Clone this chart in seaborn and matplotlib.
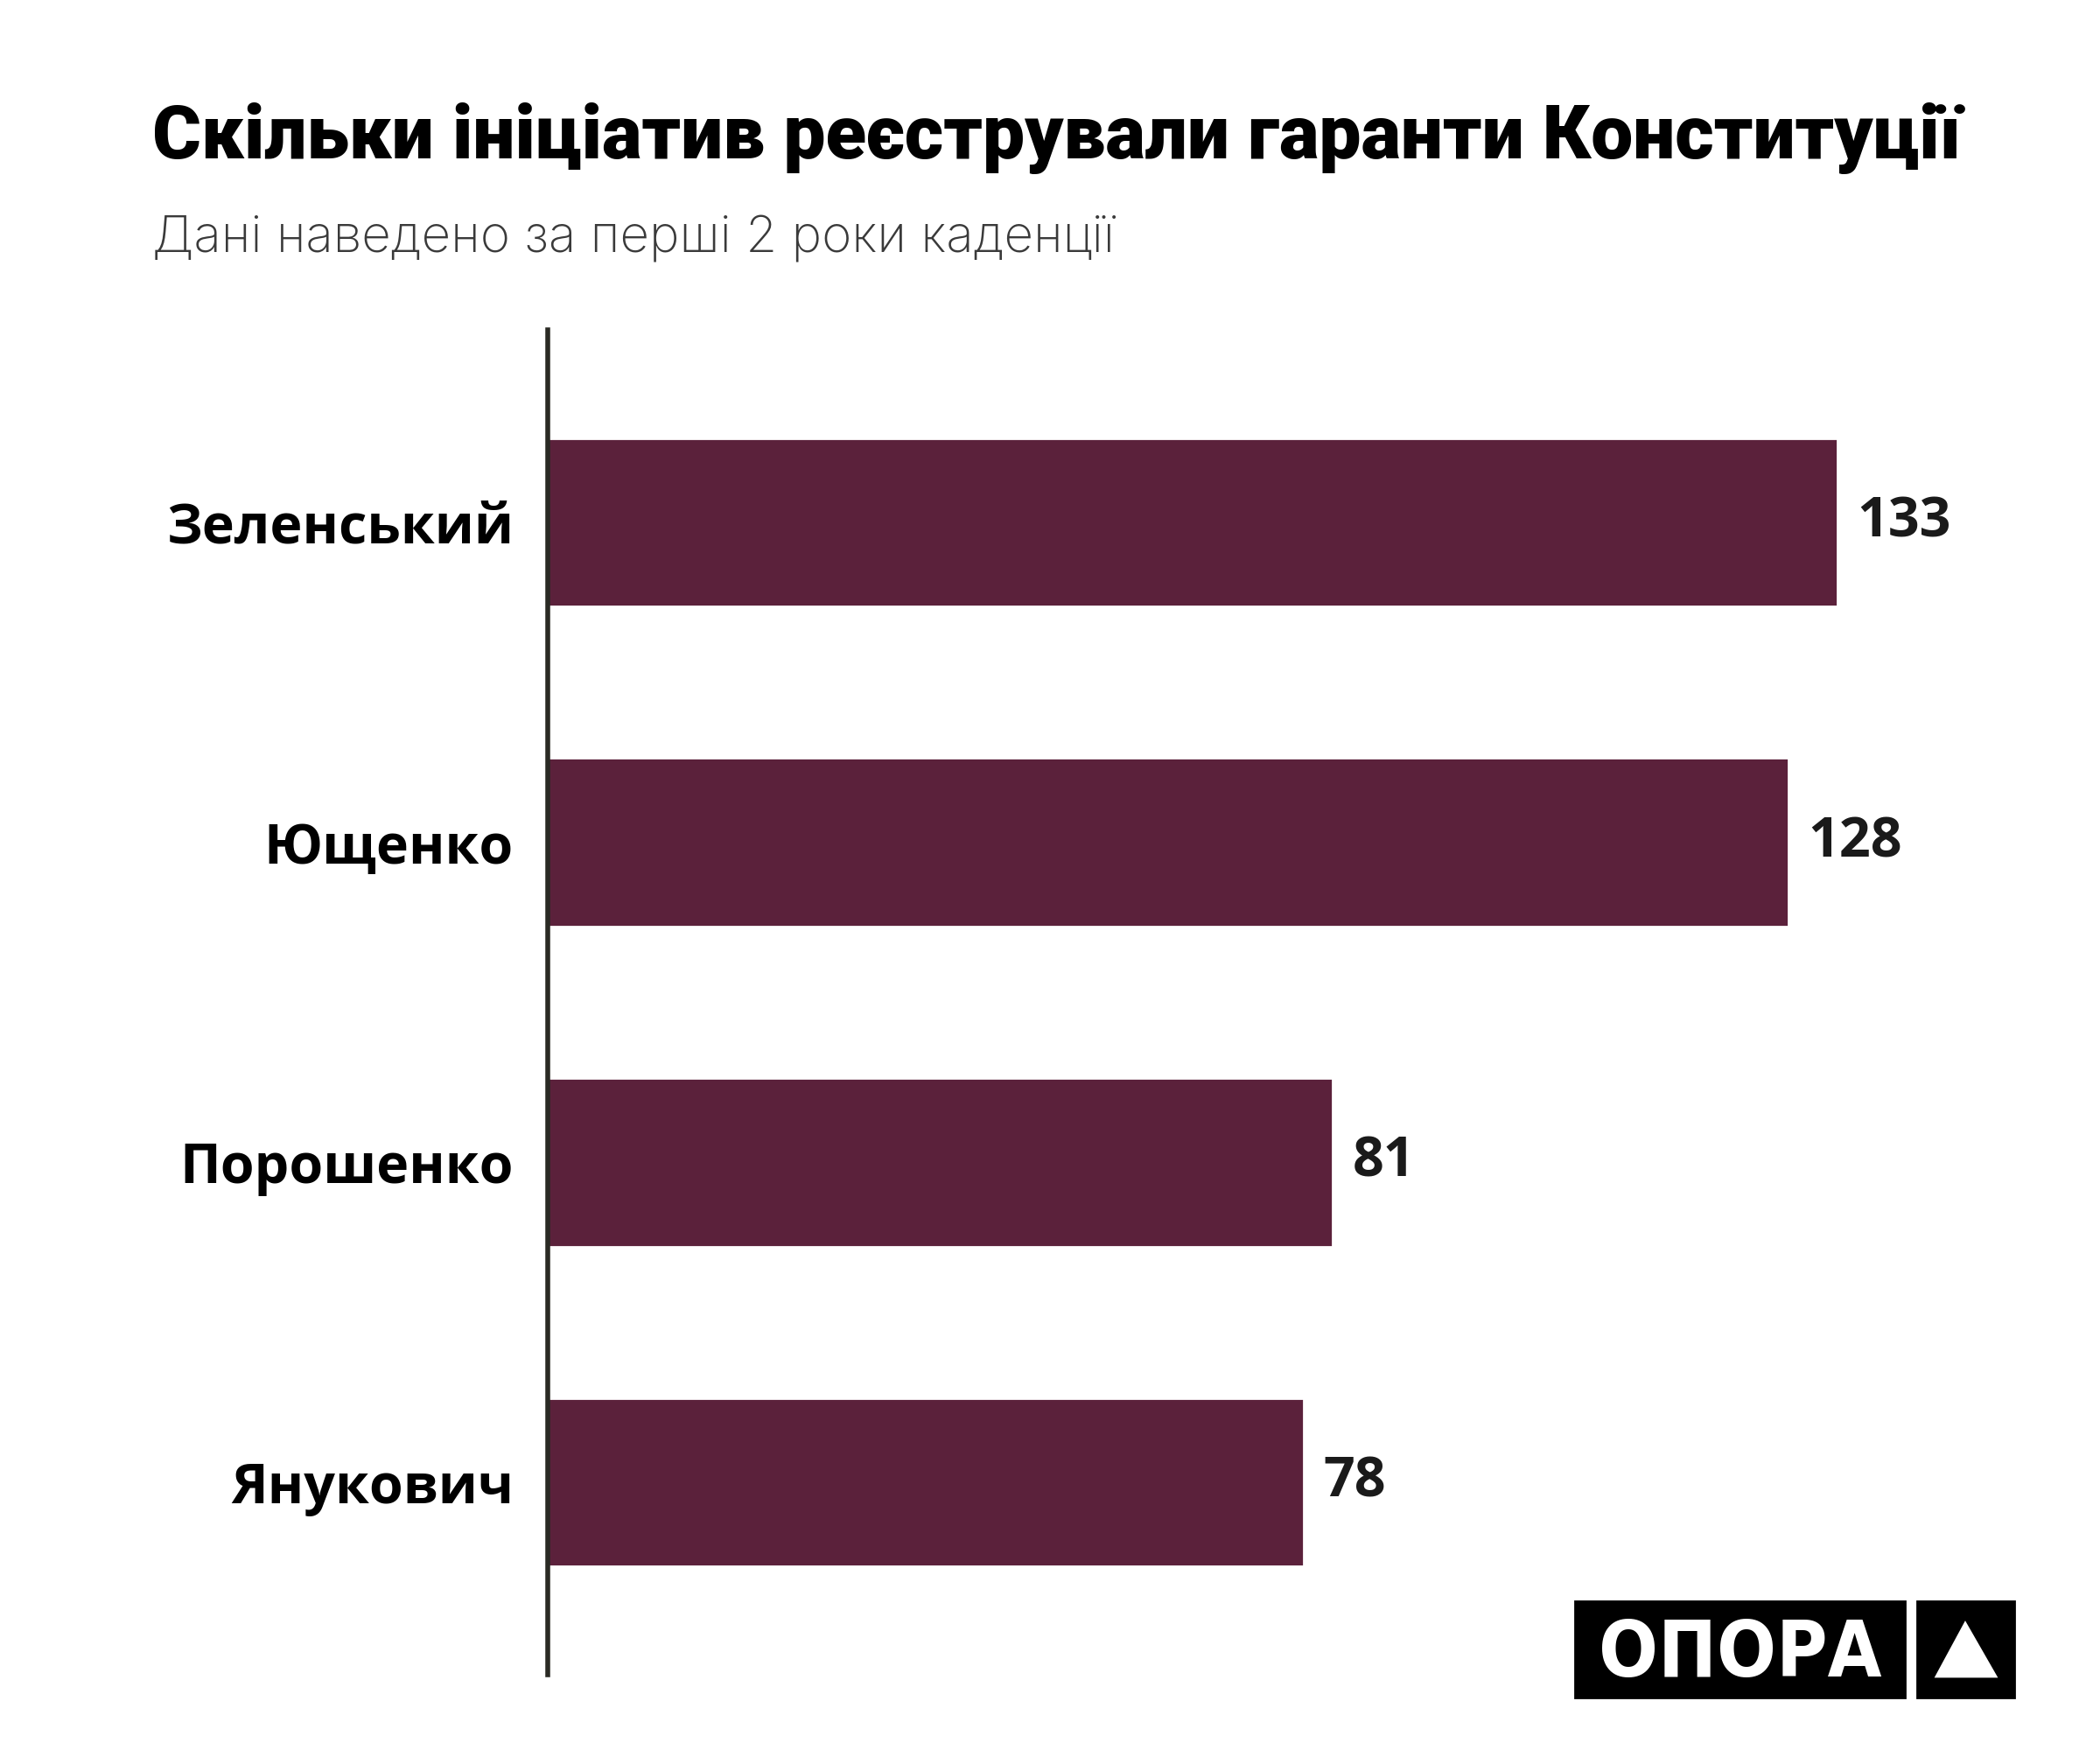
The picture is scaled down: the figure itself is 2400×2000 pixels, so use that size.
import pandas as pd
import seaborn as sns
import matplotlib.pyplot as plt
from matplotlib.patches import Rectangle, Polygon

# Дані
presidents = ["Зеленський", "Ющенко", "Порошенко", "Янукович"]
initiatives = [133, 128, 81, 78]

title = "Скільки ініціатив реєстрували гаранти Конституції"
subtitle = "Дані наведено за перші 2 роки каденції"

bar_color = "#5b213b"

df = pd.DataFrame({"president": presidents, "initiatives": initiatives})

sns.set_theme(style="white")
plt.rcParams['font.family'] = ['Open Sans', 'DejaVu Sans']

W, H = 2400, 2000
fig = plt.figure(figsize=(12, 10), dpi=200)
ax = fig.add_axes([626 / W, 1 - 1914 / H, 1672 / W, (1914 - 377) / H])

sns.barplot(data=df, x="initiatives", y="president", orient="h",
            color=bar_color, width=0.525, saturation=1, ax=ax)

ax.set_xlim(0, 1672 / 11.08)
ax.set_ylim(3.6, -0.6)
ax.set_xlabel("")
ax.set_ylabel("")
ax.set_xticks([])

for s in ["top", "right", "bottom"]:
    ax.spines[s].set_visible(False)
ax.spines["left"].set_color("#2a2a24")
ax.spines["left"].set_linewidth(2.0)

ax.tick_params(axis="y", length=0, pad=14)
for lbl in ax.get_yticklabels():
    lbl.set_fontsize(22.6)
    lbl.set_fontweight("bold")
    lbl.set_color("black")

for i, v in enumerate(initiatives):
    ax.annotate(str(v), xy=(v, i), xytext=(8, 0), textcoords="offset points",
                va="center", ha="left", fontsize=22.6, fontweight="bold",
                color="#1a1a1a")

# Заголовок
fig.text(174 / W, 1 - 181 / H, title, fontsize=30.8, fontweight="black",
         family=["Roboto", "DejaVu Sans"], color="black", va="baseline", ha="left")
fig.text(174 / W, 1 - 289 / H, subtitle, fontsize=21, fontweight="light",
         family=["Inter", "DejaVu Sans"], color="#3a3a3a", va="baseline", ha="left")

# Логотип
fig.patches.append(Rectangle((1800 / W, 1 - 1940 / H), 377 / W, 110 / H,
                             transform=fig.transFigure, color="black"))
fig.patches.append(Rectangle((2191 / W, 1 - 1940 / H), 111 / W, 110 / H,
                             transform=fig.transFigure, color="black"))
fig.patches.append(Polygon([(2246 / W, 1 - 1855 / H), (2213 / W, 1 - 1916 / H),
                            (2281 / W, 1 - 1916 / H)], closed=True,
                           transform=fig.transFigure, color="white"))
fig.text(1989 / W, 1 - 1916 / H, "ОПОРА", fontsize=32, fontweight="bold",
         fontstretch="condensed", family=["DejaVu Sans"], color="white",
         ha="center", va="baseline")

fig.savefig("out.png", dpi=200, facecolor="white")
